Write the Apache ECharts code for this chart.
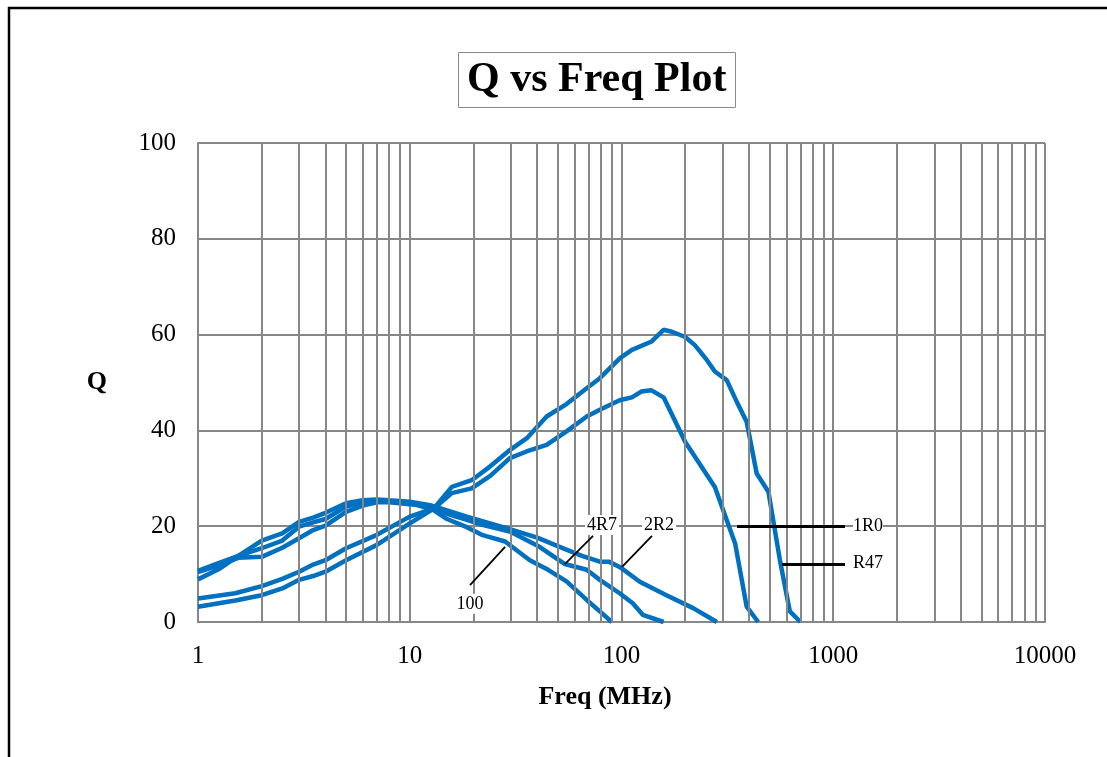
<!DOCTYPE html>
<html><head><meta charset="utf-8">
<script src="https://cdn.jsdelivr.net/npm/echarts@6/dist/echarts.min.js"></script>
<style>html,body{margin:0;padding:0;background:#fff;}#c{width:1107px;height:757px;}</style>
</head><body><div id="c"></div>
<script>
// ---- data ----
const xTickLabels = ['1', '10', '100', '1000', '10000'];
const yTicks = [0, 20, 40, 60, 80, 100];
const minorFreqs = [2,3,4,5,6,7,8,9, 20,30,40,50,60,70,80,90, 200,300,400,500,600,700,800,900, 2000,3000,4000,5000,6000,7000,8000,9000];

const freq_100 = [1, 1.25, 1.55, 2, 2.5, 3, 3.5, 4, 5, 6, 7, 8, 10, 12.9, 15, 18.6, 21.9, 28.2, 36.9, 45, 55, 68.5, 80, 90];
const q_100    = [10.7, 12.3, 13.8, 15.4, 17.0, 19.9, 20.8, 21.5, 24.1, 25.0, 25.4, 25.2, 24.9, 23.4, 21.5, 19.8, 18.2, 16.8, 12.9, 10.9, 8.5, 4.6, 2.0, 0];

const freq_4R7 = [1, 1.25, 1.55, 2, 2.5, 3, 3.5, 4, 5, 6, 7, 8, 10, 12.5, 15, 18.6, 22, 29.7, 41, 54, 68.5, 79, 98, 113, 126, 158];
const q_4R7    = [10.4, 11.8, 13.4, 13.6, 15.5, 17.5, 19.2, 20.1, 23.0, 24.3, 25.0, 25.0, 24.6, 24.2, 22.6, 21.3, 20.3, 18.9, 15.7, 12.1, 10.9, 8.8, 6.0, 3.9, 1.5, 0];

const freq_2R2 = [1, 1.25, 1.55, 2, 2.5, 3, 3.5, 4, 5, 6, 7, 8, 10, 12.5, 18.6, 29.7, 40, 51, 65, 79, 87, 98, 122, 163, 218, 282];
const q_2R2    = [8.9, 11.0, 13.8, 17.0, 18.5, 20.9, 21.8, 22.8, 24.8, 25.4, 25.6, 25.4, 25.1, 24.4, 22.0, 19.4, 17.6, 15.7, 13.8, 12.6, 12.6, 11.5, 8.4, 5.6, 2.9, 0];

const freq_1R0 = [1, 1.5, 2, 2.5, 3, 3.5, 4, 5, 7, 10, 13, 15.8, 19.6, 24, 29.7, 35.6, 44.3, 55, 68.5, 79, 98, 112, 124, 138, 158, 200, 276, 344, 390, 442];
const q_1R0    = [4.9, 6.0, 7.5, 9.0, 10.5, 12.0, 12.9, 15.4, 18.2, 22.0, 23.7, 26.9, 27.9, 30.5, 34.2, 35.6, 37.0, 39.8, 42.9, 44.3, 46.3, 46.9, 48.1, 48.4, 46.9, 37.6, 28.2, 16.4, 3.2, 0];

const freq_R47 = [1, 1.5, 2, 2.5, 3, 3.5, 4, 5, 7, 10, 13, 15.8, 19.6, 24, 29.7, 36, 44.3, 55, 68.5, 79, 98.4, 112, 138, 158, 173, 200, 222, 250, 276, 314, 350, 390, 435, 494, 560, 624, 700];
const q_R47    = [3.2, 4.5, 5.6, 7.0, 8.8, 9.6, 10.5, 12.9, 16.1, 20.6, 23.7, 28.2, 29.6, 32.5, 35.9, 38.5, 42.9, 45.5, 48.8, 50.9, 55.1, 56.8, 58.5, 61.0, 60.6, 59.5, 57.8, 55.0, 52.3, 50.5, 46.0, 41.8, 31.0, 27.2, 12.9, 2.2, 0];

// annotation labels (name, text anchor [freq,Q], leader from, leader to)
const labelNames = ['100', '4R7', '2R2', '1R0', 'R47'];
const labelAnchors = [[19.25, 3.8], [80.9, 20.25], [150.3, 20.25], [1200, 20.0], [1200, 12.3]];
const leaderFrom = [[19.25, 7.7], [73.4, 18.0], [139.3, 18.0], [351, 20.0], [573, 12.1]];
const leaderTo   = [[28.2, 15.7], [54.0, 12.1], [100.6, 11.5], [1136, 20.0], [1136, 12.1]];

// ---- chart ----
const FONT = '"Liberation Serif", "Times New Roman", serif';
const GRID_COLOR = '#878787';
const LINE_COLOR = '#0070C0';
const zip = (a, b) => a.map((v, i) => [v, b[i]]);

const curves = [
  ['100', freq_100, q_100],
  ['4R7', freq_4R7, q_4R7],
  ['2R2', freq_2R2, q_2R2],
  ['1R0', freq_1R0, q_1R0],
  ['R47', freq_R47, q_R47]
];

const series = [];
series.push({
  name: 'minorGrid', type: 'line', data: [], silent: true, z: 1,
  markLine: {
    silent: true, symbol: ['none', 'none'], animation: false,
    label: { show: false },
    lineStyle: { color: GRID_COLOR, width: 2, type: 'solid' },
    emphasis: { disabled: true },
    data: minorFreqs.map(f => ({ xAxis: f }))
  }
});
curves.forEach(([name, fx, qy]) => {
  series.push({
    name, type: 'line', data: zip(fx, qy), showSymbol: false, smooth: false,
    lineStyle: { color: LINE_COLOR, width: 4.5 }, itemStyle: { color: LINE_COLOR },
    z: 3, animation: false
  });
});
series.push({
  name: 'annot', type: 'line', data: [], z: 5, silent: true,
  markLine: {
    silent: true, symbol: ['none', 'none'], animation: false,
    label: { show: false },
    lineStyle: { color: '#000', width: 2, type: 'solid' },
    data: leaderFrom.map((p, i) => [{ coord: p, lineStyle: { width: i < 3 ? 1.8 : 3 } }, { coord: leaderTo[i] }])
  },
  markPoint: {
    silent: true, animation: false, symbol: 'rect', symbolSize: 0,
    label: {
      show: true, formatter: '{b}', color: '#000', fontFamily: FONT, fontSize: 18,
      backgroundColor: '#fff', padding: [1, 2]
    },
    data: labelNames.map((n, i) => ({
      name: n, coord: labelAnchors[i],
      label: i >= 3 ? { position: 'right', distance: 3, padding: [1, 0] } : { position: 'inside' }
    }))
  }
});

const chart = echarts.init(document.getElementById('c'), null, { renderer: 'canvas' });
chart.setOption({
  backgroundColor: '#fff',
  animation: false,
  title: {
    text: 'Q vs Freq Plot', left: 458, top: 52,
    padding: [7, 9, 7, 9],
    borderColor: '#8c8c8c', borderWidth: 1,
    textStyle: { fontFamily: FONT, fontSize: 42, fontWeight: 'bold', color: '#000', lineHeight: 42 }
  },
  graphic: [{
    type: 'polyline', silent: true,
    shape: { points: [[9, 757], [9, 8], [1107, 8]] },
    style: { stroke: '#000', lineWidth: 2.5, fill: null }
  }],
  grid: { left: 198, right: 62, top: 143, bottom: 135, containLabel: false },
  xAxis: {
    type: 'log', logBase: 10, min: 1, max: 10000,
    name: 'Freq (MHz)', nameLocation: 'middle', nameGap: 62,
    nameTextStyle: { fontFamily: FONT, fontSize: 26, fontWeight: 'bold', color: '#000', padding: [0, 33, 0, 0] },
    axisLine: { show: true, lineStyle: { color: GRID_COLOR, width: 2 } },
    axisTick: { show: false },
    axisLabel: {
      fontFamily: FONT, fontSize: 25, color: '#000', margin: 22,
      formatter: v => { const i = Math.round(Math.log10(v)); return xTickLabels[i] !== undefined ? xTickLabels[i] : ''; }
    },
    splitLine: { show: true, lineStyle: { color: GRID_COLOR, width: 2 } },
    minorTick: { show: false }, minorSplitLine: { show: false }
  },
  yAxis: {
    type: 'value', min: yTicks[0], max: yTicks[yTicks.length - 1], interval: 20,
    name: 'Q', nameLocation: 'middle', nameGap: 91, nameRotate: 0,
    nameTextStyle: { fontFamily: FONT, fontSize: 26, fontWeight: 'bold', color: '#000' },
    axisLine: { show: true, lineStyle: { color: GRID_COLOR, width: 2 } },
    axisTick: { show: false },
    axisLabel: { fontFamily: FONT, fontSize: 25, color: '#000', margin: 22 },
    splitLine: { show: true, lineStyle: { color: GRID_COLOR, width: 2 } }
  },
  series
});
</script>
</body></html>
